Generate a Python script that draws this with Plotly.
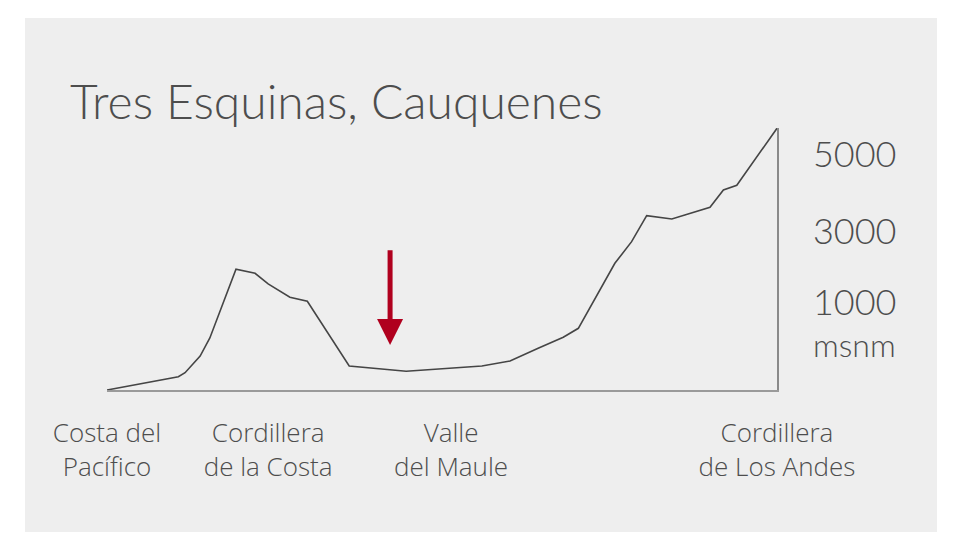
import plotly.graph_objects as go

# Profile: distance from coast (km) and elevation (m)
distance_km = [0, 5.4, 21.3, 23.3, 27.8, 30.7, 38.5, 44.2, 48.1, 54.6, 59.8, 72.3,
               89.3, 111.9, 120.3, 128.7, 136.2, 140.7, 151.6, 156.6, 161.1,
               168.6, 180.0, 184.0, 188.0, 200.0]
elevation_m = [0, 70, 282, 367, 720, 1102, 2557, 2472, 2246, 1964, 1879, 508,
               396, 508, 614, 884, 1117, 1307, 2684, 3142, 3693,
               3623, 3871, 4237, 4337, 5545]

region_positions = [0, 48.1, 102.7, 200]
region_labels = ["Costa del<br>Pacífico", "Cordillera<br>de la Costa",
                 "Valle<br>del Maule", "Cordillera<br>de Los Andes"]

elev_tick_positions = [5000, 3350, 1864, 975]
elev_tick_labels = ["5000", "3000", "1000", "<span style='font-size:32px'>msnm</span>"]

title_text = "Tres Esquinas, Cauquenes"

# Location marker (arrow)
marker_km = 84.5
marker_top_m = 2990
marker_tip_m = 953

TXT = "#4d4d4d"
OFF = 8  # page body margin
W, H = 957 - OFF, 534 - OFF
L, R, T = 107 - OFF, 180, 128 - OFF
B = H - (390 - OFF)
pw, ph = W - L - R, H - T - B


def px2paper(x, y):
    # x, y are screen pixel positions
    x, y = x - OFF, y - OFF
    return (x - L) / pw, (H - B - y) / ph


fig = go.Figure()
fig.add_trace(go.Scatter(x=distance_km, y=elevation_m, mode="lines",
                         line=dict(color="#454545", width=1.6),
                         hoverinfo="skip", showlegend=False, cliponaxis=False))

x0, y0 = px2paper(25, 532)
x1, y1 = px2paper(937, 18)
fig.add_shape(type="rect", xref="paper", yref="paper", x0=x0, y0=y0, x1=x1, y1=y1,
              fillcolor="#eeeeee", line=dict(width=0), layer="below")

fig.add_annotation(x=marker_km, y=marker_tip_m, ax=marker_km, ay=marker_top_m,
                   xref="x", yref="y", axref="x", ayref="y", text="",
                   showarrow=True, arrowhead=2, arrowwidth=5, arrowsize=1.04,
                   arrowcolor="#b0001e")

tx, ty = px2paper(68, 131)
fig.add_annotation(x=tx, y=ty, xref="paper", yref="paper", text=title_text,
                   showarrow=False, xanchor="left", yanchor="bottom",
                   font=dict(family="Lato", size=48, color=TXT, weight=300))

fig.update_layout(
    width=W, height=H,
    margin=dict(l=L, r=R, t=T, b=B, pad=0),
    paper_bgcolor="white",
    plot_bgcolor="#eeeeee",
    xaxis=dict(range=[0, 200], showgrid=False, zeroline=False,
               showline=True, linecolor="#9a9a9a", linewidth=2,
               tickvals=region_positions, ticktext=region_labels,
               ticks="outside", ticklen=19, tickcolor="rgba(0,0,0,0)",
               tickfont=dict(family="Open Sans", size=26, color=TXT, weight=300)),
    yaxis=dict(range=[0, 5550], side="right", showgrid=False, zeroline=False,
               showline=True, linecolor="#8a8a8a", linewidth=1.5,
               tickvals=elev_tick_positions, ticktext=elev_tick_labels,
               ticks="outside", ticklen=27, tickcolor="rgba(0,0,0,0)",
               tickfont=dict(family="Lato", size=36, color=TXT, weight=300)),
)

fig.write_html("out.html")
